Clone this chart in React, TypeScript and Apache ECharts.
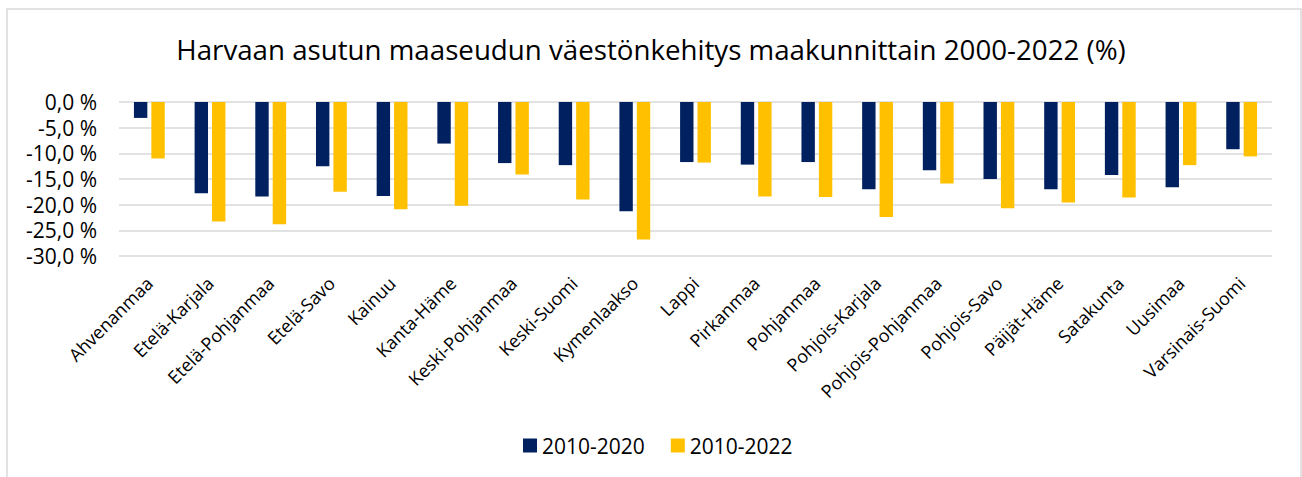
import React, { useEffect, useRef } from "react";
import * as echarts from "echarts";

const titleText = "Harvaan asutun maaseudun väestönkehitys maakunnittain 2000-2022 (%)";
const categories = [
  "Ahvenanmaa", "Etelä-Karjala", "Etelä-Pohjanmaa", "Etelä-Savo", "Kainuu",
  "Kanta-Häme", "Keski-Pohjanmaa", "Keski-Suomi", "Kymenlaakso", "Lappi",
  "Pirkanmaa", "Pohjanmaa", "Pohjois-Karjala", "Pohjois-Pohjanmaa", "Pohjois-Savo",
  "Päijät-Häme", "Satakunta", "Uusimaa", "Varsinais-Suomi",
];
const seriesNames = ["2010-2020", "2010-2022"];
const values2020 = [-3.1, -17.8, -18.4, -12.5, -18.3, -8.1, -11.9, -12.3, -21.3, -11.7, -12.2, -11.7, -17.0, -13.3, -15.0, -17.0, -14.2, -16.6, -9.2];
const values2022 = [-11.0, -23.3, -23.8, -17.5, -20.9, -20.2, -14.1, -19.0, -26.8, -11.8, -18.4, -18.5, -22.4, -15.9, -20.7, -19.6, -18.6, -12.3, -10.6];
const yMin = -30;
const yMax = 0;
const yStep = 5;

const FONT = "Open Sans";

export default function App() {
  const ref = useRef<HTMLDivElement>(null);
  useEffect(() => {
    if (!ref.current) return;
    const chart = echarts.init(ref.current, null, { renderer: "svg" });
    chart.setOption({
      animation: false,
      backgroundColor: "#ffffff",
      textStyle: { fontFamily: FONT },
      title: {
        text: titleText,
        left: "center",
        top: 35,
        padding: 0,
        textStyle: { fontSize: 27.7, fontWeight: "normal", color: "#000000", fontFamily: FONT },
      },
      legend: {
        data: seriesNames,
        left: 523,
        top: 435,
        padding: 0,
        icon: "rect",
        itemWidth: 14,
        itemHeight: 14,
        itemGap: 26,
        textStyle: { fontSize: 21, color: "#000000", fontFamily: FONT },
      },
      graphic: [
        {
          type: "rect",
          silent: true,
          z: -1,
          shape: { x: 7, y: 9, width: 1294, height: 520 },
          style: { fill: "none", stroke: "#d9d9d9", lineWidth: 1.5 },
        },
      ],
      grid: { left: 119, right: 30, top: 102, bottom: 221, containLabel: false, outerBoundsMode: "none" },
      xAxis: {
        type: "category",
        data: categories,
        axisLine: { show: false, onZero: false },
        axisTick: { show: false },
        axisLabel: {
          interval: 0,
          rotate: 45,
          margin: 24,
          fontSize: 18,
          color: "#000000",
          fontFamily: FONT,
        },
      },
      yAxis: {
        type: "value",
        min: yMin,
        max: yMax,
        interval: yStep,
        axisLine: { show: false },
        axisTick: { show: false },
        splitLine: { lineStyle: { color: "#d9d9d9", width: 1.5 } },
        axisLabel: {
          fontSize: 21,
          color: "#000000",
          fontFamily: FONT,
          margin: 22,
          formatter: (v: number) => v.toFixed(1).replace(".", ",") + " %",
        },
      },
      series: [
        {
          name: seriesNames[0],
          type: "bar",
          data: values2020,
          barWidth: 13.4,
          barGap: "30%",
          itemStyle: { color: "#002060" },
        },
        {
          name: seriesNames[1],
          type: "bar",
          data: values2022,
          barWidth: 13.4,
          barGap: "30%",
          itemStyle: { color: "#FFC000" },
        },
      ],
    });
    return () => chart.dispose();
  }, []);
  return (
    <div
      ref={ref}
      style={{ position: "fixed", left: 0, top: 0, width: 1302, height: 477 }}
    />
  );
}
